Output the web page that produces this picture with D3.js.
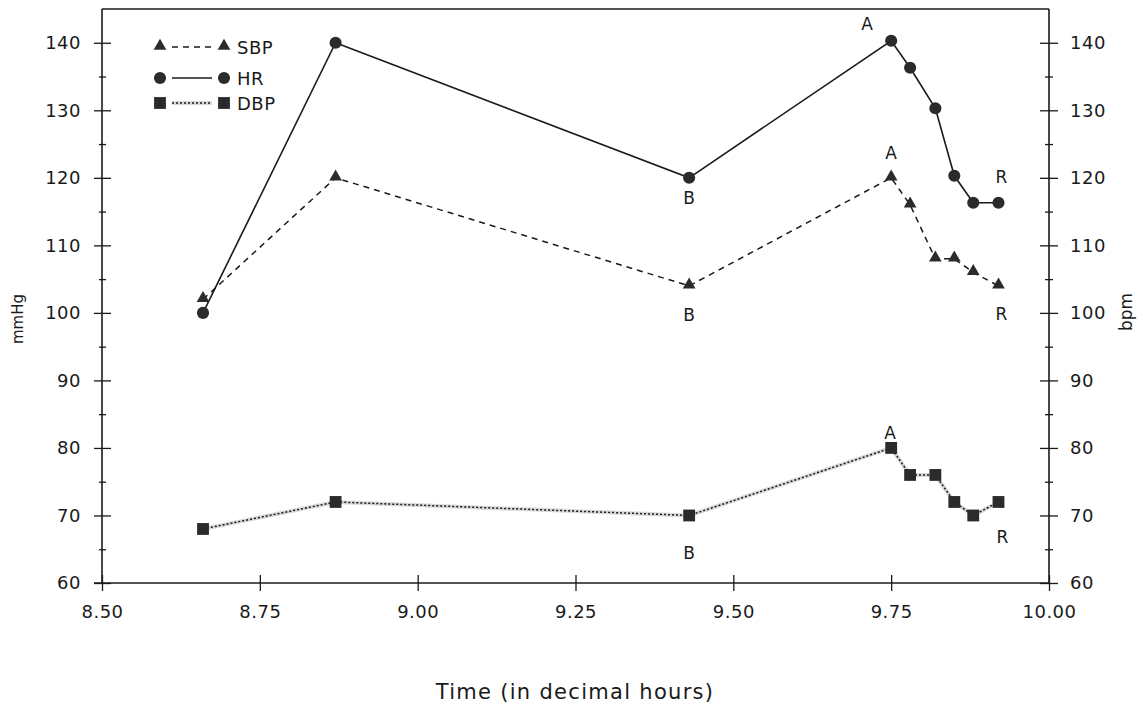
<!DOCTYPE html>
<html>
<head>
<meta charset="utf-8">
<script src="https://cdn.jsdelivr.net/npm/d3@7"></script>
<style>
  html, body { margin: 0; padding: 0; background: #fff; }
  svg { display: block; }
  text { font-family: "DejaVu Sans", sans-serif; fill: #1a1a1a; }
</style>
</head>
<body>
<svg id="chart" width="1143" height="711"></svg>
<script>
// ---- data ----
const times = [8.66, 8.87, 9.43, 9.75, 9.78, 9.82, 9.85, 9.88, 9.92];
const sbp   = [102, 120, 104, 120, 116, 108, 108, 106, 104];
const hr    = [100, 140, 120, 140.3, 136.3, 130.3, 120.3, 116.3, 116.3];
const dbp   = [68, 72, 70, 80, 76, 76, 72, 70, 72];
const xTicks = [8.50, 8.75, 9.00, 9.25, 9.50, 9.75, 10.00];
const yMajor = [60, 70, 80, 90, 100, 110, 120, 130, 140];
const yMinor = [65, 75, 85, 95, 105, 115, 125, 135];
const seriesNames = ["SBP", "HR", "DBP"];
// annotations: [series, point index, label]
const notes = [
  ["HR", 3, "A"], ["SBP", 3, "A"], ["DBP", 3, "A"],
  ["HR", 2, "B"], ["SBP", 2, "B"], ["DBP", 2, "B"],
  ["HR", 8, "R"], ["SBP", 8, "R"], ["DBP", 8, "R"]
];

// ---- layout ----
const svg = d3.select("#chart");
const L = 102, R = 1049, T = 9, B = 583;
const x = d3.scaleLinear().domain([8.5, 10.0]).range([L, R]);
const y = d3.scaleLinear().domain([60, 145]).range([B, T]);
const ink = "#1a1a1a";
const markFill = "#2b2b2b";

const seriesData = {
  SBP: times.map((t, i) => ({t, v: sbp[i]})),
  HR:  times.map((t, i) => ({t, v: hr[i]})),
  DBP: times.map((t, i) => ({t, v: dbp[i]}))
};

// ---- axes ----
function styleAxis(g) {
  g.select(".domain").attr("stroke", ink).attr("stroke-width", 1.6);
  g.selectAll(".tick line").attr("stroke", ink).attr("stroke-width", 1.3);
  g.selectAll(".tick text").attr("font-family", "DejaVu Sans, sans-serif")
    .attr("font-size", 18).attr("letter-spacing", 0.5).attr("fill", ink);
}

// left axis
const gl = svg.append("g").attr("transform", `translate(${L},0)`)
  .call(d3.axisLeft(y).tickValues(yMajor).tickSizeOuter(0).tickSize(9).tickPadding(12).tickFormat(d3.format("d")));
styleAxis(gl);
gl.selectAll(".tick line").attr("x1", -8).attr("x2", 9);
gl.select(".domain").attr("d", `M0,${B}V${T}`);
const glm = svg.append("g").attr("transform", `translate(${L},0)`)
  .call(d3.axisLeft(y).tickValues(yMinor).tickSize(4).tickFormat(""));
glm.select(".domain").remove();
glm.selectAll(".tick line").attr("x1", -3).attr("x2", 4).attr("stroke", ink).attr("stroke-width", 1.3);

// right axis
const gr = svg.append("g").attr("transform", `translate(${R},0)`)
  .call(d3.axisRight(y).tickValues(yMajor).tickSizeOuter(0).tickSize(9).tickPadding(12).tickFormat(d3.format("d")));
styleAxis(gr);
gr.selectAll(".tick line").attr("x1", -9).attr("x2", 9);
gr.select(".domain").attr("d", `M0,${B}V${T}`);
const grm = svg.append("g").attr("transform", `translate(${R},0)`)
  .call(d3.axisRight(y).tickValues(yMinor).tickSize(4).tickFormat(""));
grm.select(".domain").remove();
grm.selectAll(".tick line").attr("x1", -4).attr("x2", 4).attr("stroke", ink).attr("stroke-width", 1.3);

// bottom axis
const gb = svg.append("g").attr("transform", `translate(0,${B})`)
  .call(d3.axisBottom(x).tickValues(xTicks).tickSizeOuter(0).tickSize(8).tickPadding(14).tickFormat(d3.format(".2f")));
styleAxis(gb);
gb.selectAll(".tick line").attr("y1", -8).attr("y2", 8);
gb.select(".domain").attr("d", `M${L - 8},0H${R}`);

// top frame
svg.append("line").attr("x1", L).attr("x2", R).attr("y1", T).attr("y2", T)
  .attr("stroke", ink).attr("stroke-width", 1.6);

// axis titles
svg.append("text").attr("transform", `translate(23,319) rotate(-90)`)
  .attr("text-anchor", "middle").attr("font-size", 15).text("mmHg");
svg.append("text").attr("transform", `translate(1132,312) rotate(-90)`)
  .attr("text-anchor", "middle").attr("font-size", 17).text("bpm");
svg.append("text").attr("x", 575).attr("y", 699)
  .attr("text-anchor", "middle").attr("font-size", 21).attr("letter-spacing", 1.3)
  .text("Time (in decimal hours)");

// ---- lines ----
const line = d3.line().x(d => x(d.t)).y(d => y(d.v));
// faint photocopy-grey underlay for DBP
svg.append("path").datum(seriesData.DBP).attr("d", line)
  .attr("fill", "none").attr("stroke", "#c8c8c8").attr("stroke-width", 4).attr("opacity", 0.7);
svg.append("path").datum(seriesData.DBP).attr("d", line)
  .attr("fill", "none").attr("stroke", ink).attr("stroke-width", 1.5).attr("stroke-dasharray", "2,2");
svg.append("path").datum(seriesData.SBP).attr("d", line)
  .attr("fill", "none").attr("stroke", ink).attr("stroke-width", 1.5).attr("stroke-dasharray", "6,5");
svg.append("path").datum(seriesData.HR).attr("d", line)
  .attr("fill", "none").attr("stroke", ink).attr("stroke-width", 1.6);

// ---- markers ----
const symTri = d3.symbol().type(d3.symbolTriangle).size(70);
const symSq = d3.symbol().type(d3.symbolSquare).size(140);
const symCir = d3.symbol().type(d3.symbolCircle).size(115);
const symbolFor = {SBP: symTri, HR: symCir, DBP: symSq};
const triShift = {SBP: 1, HR: 0, DBP: 0};

seriesNames.forEach(name => {
  svg.append("g").selectAll("path").data(seriesData[name]).join("path")
    .attr("transform", d => `translate(${x(d.t)},${y(d.v) - triShift[name]})`)
    .attr("d", symbolFor[name]())
    .attr("fill", markFill);
});

// ---- annotations ----
const noteOffset = {
  "HR-A": [-24, -11], "SBP-A": [0, -19], "DBP-A": [-1, -9],
  "HR-B": [0, 26], "SBP-B": [0, 35], "DBP-B": [0, 44],
  "HR-R": [3, -20], "SBP-R": [3, 34], "DBP-R": [4, 41]
};
notes.forEach(([s, i, lab]) => {
  const d = seriesData[s][i];
  const off = noteOffset[`${s}-${lab}`];
  svg.append("text").attr("x", x(d.t) + off[0]).attr("y", y(d.v) + off[1])
    .attr("text-anchor", "middle").attr("font-size", 17).text(lab);
});

// ---- legend ----
const legY = [47, 78, 103];
const legDash = {SBP: "6,5", HR: null, DBP: "2,2"};
seriesNames.forEach((name, k) => {
  const g = svg.append("g").attr("transform", `translate(0,${legY[k]})`);
  if (name === "DBP") {
    g.append("line").attr("x1", 172).attr("x2", 212).attr("stroke", "#c8c8c8")
      .attr("stroke-width", 4).attr("opacity", 0.7);
  }
  g.append("line").attr("x1", 172).attr("x2", 212)
    .attr("stroke", ink).attr("stroke-width", 1.5)
    .attr("stroke-dasharray", legDash[name]);
  [160, 224].forEach(px => {
    g.append("path").attr("transform", `translate(${px},${name === "SBP" ? -1 : 0})`)
      .attr("d", symbolFor[name]()).attr("fill", markFill);
  });
  g.append("text").attr("x", 237).attr("y", 7).attr("font-size", 18).attr("letter-spacing", 0.5).text(name);
});
</script>
</body>
</html>
